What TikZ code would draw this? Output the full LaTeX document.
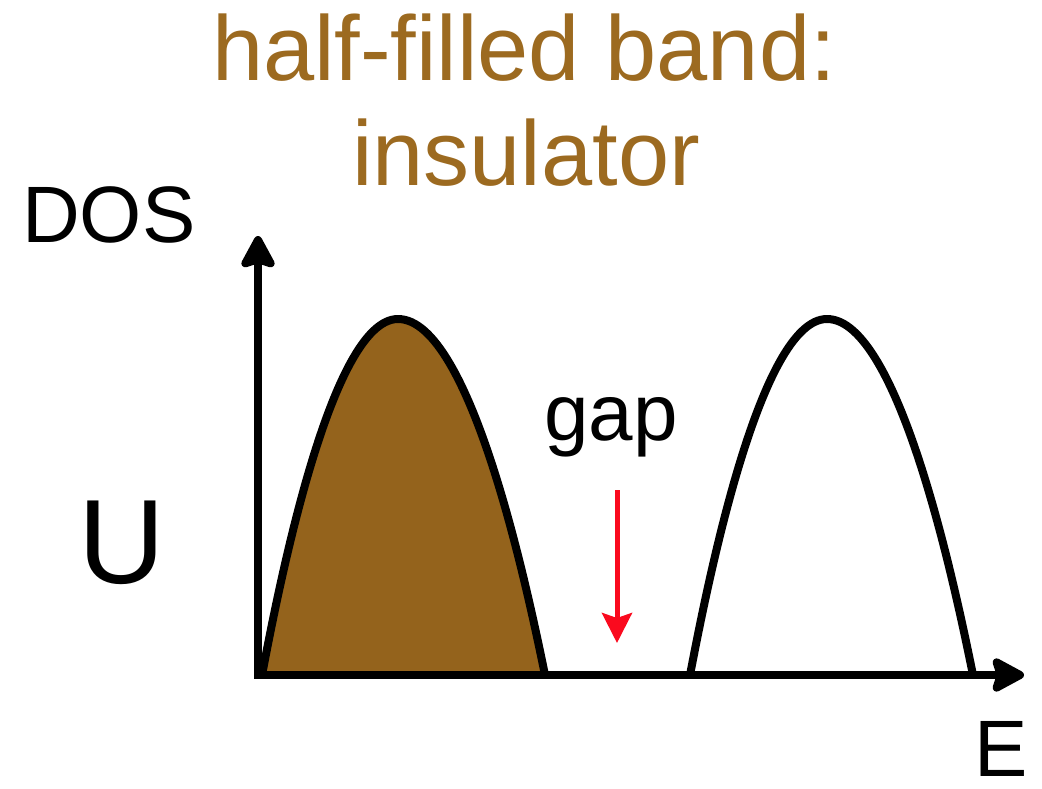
\documentclass[tikz,border=0pt]{standalone}
\usepackage{fontspec}
\setmainfont{Liberation Sans}
\usepackage{xcolor}
\usetikzlibrary{arrows.meta}

\definecolor{bandbrown}{RGB}{148,99,28}
\definecolor{titlebrown}{RGB}{156,106,32}
\definecolor{gapred}{RGB}{250,10,30}

\begin{document}
\begin{tikzpicture}[x=1pt, y=-1pt,
  axisline/.style={line width=8pt, line cap=rect, -{Stealth[length=38pt, width=40pt, inset=6pt, round]}},
  bandline/.style={line width=8pt, line join=round},
  txtlabel/.style={inner sep=0pt, anchor=base west, font=\fontsize{80}{96}\selectfont},
  titletxt/.style={inner sep=0pt, anchor=base, text=titlebrown, font=\fontsize{92}{105}\selectfont},
]
\useasboundingbox (0,0) rectangle (1042,788);

% --- title ---
\node[titletxt] (title1) at (524,80) {half-filled band:};
\node[titletxt] (title2) at (526,185) {insulator};

% --- bands ---
\draw[bandline, fill=bandbrown] (262,675) parabola bend (398,319) (545,675);
\draw[bandline, fill=white] (690,675) parabola bend (827,319) (973,675);

% --- axes ---
\coordinate (origin) at (258,675);
\coordinate (ytip) at (258,236);
\coordinate (xtip) at (1024,675);
\draw[axisline] (origin) -- (ytip);
\draw[axisline] (origin) -- (xtip);

% --- labels ---
\node[txtlabel] (dos) at (22,242) {DOS};
\node[txtlabel] (e) at (974,776) {E};
\node[txtlabel, font=\fontsize{120}{140}\selectfont] (u) at (78,583) {U};
\node[txtlabel] (gap) at (544,440) {gap};

% --- gap arrow ---
\coordinate (gaptop) at (617,490);
\coordinate (gapend) at (617,643);
\draw[gapred, line width=5pt, -{Stealth[length=30pt, width=30pt, inset=5pt]}] (gaptop) -- (gapend);

\end{tikzpicture}
\end{document}
